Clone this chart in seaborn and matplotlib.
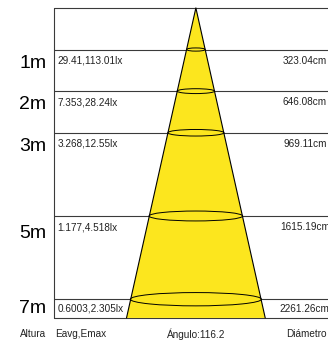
import numpy as np
import pandas as pd
import matplotlib
matplotlib.use('Agg')
import matplotlib.pyplot as plt
from matplotlib.patches import Ellipse, Polygon
import seaborn as sns

# ---- data ----
heights = [1, 2, 3, 5, 7]
height_labels = ['1m', '2m', '3m', '5m', '7m']
eavg_emax = ['29.41,113.01lx', '7.353,28.24lx', '3.268,12.55lx',
             '1.177,4.518lx', '0.6003,2.305lx']
diam_labels = ['323.04cm', '646.08cm', '969.11cm', '1615.19cm', '2261.26cm']
diameters_cm = [323.04, 646.08, 969.11, 1615.19, 2261.26]
beam_angle = 116.2
footer = ['Altura', 'Eavg,Emax', 'Ángulo:116.2', 'Diámetro']

# ---- layout ----
H_BOTTOM = 7.45       # box bottom (m)
BOX_LEFT = -24.5      # box left edge (m, horizontal)
X_LEFT, X_RIGHT = -33.8, 22.8
Y_TOP, Y_BOT = -0.19, 7.98
PX_X = 328 / (X_RIGHT - X_LEFT)
PX_Y = 340 / (Y_BOT - Y_TOP)
LINE = '#3a3a3a'
YELLOW = '#FCE61E'

sns.set_theme(style='white')
plt.rcParams['font.family'] = ['Liberation Sans', 'DejaVu Sans']

fig = plt.figure(figsize=(3.28, 3.40), dpi=100)
ax = fig.add_axes([0, 0, 1, 1])

# level lines + box
levels = pd.DataFrame({
    'x': [BOX_LEFT, X_RIGHT + 5] * (len(heights) + 2),
    'h': [v for h in [0] + heights + [H_BOTTOM] for v in (h, h)],
    'lvl': [i for i in range(len(heights) + 2) for _ in (0, 1)],
})
sns.lineplot(data=levels, x='x', y='h', units='lvl', estimator=None,
             color=LINE, lw=0.8, ax=ax, sort=False)
ax.plot([BOX_LEFT, BOX_LEFT], [0, H_BOTTOM], color=LINE, lw=0.8)
ax.set_xlim(X_LEFT, X_RIGHT)
ax.set_ylim(Y_BOT, Y_TOP)
ax.axis('off')

# light cone
t = np.tan(np.radians(beam_angle / 2))
hw = H_BOTTOM * t
cone = Polygon([(0, 0), (-hw, H_BOTTOM), (hw, H_BOTTOM)], closed=True,
               facecolor=YELLOW, edgecolor='none', zorder=3)
ax.add_patch(cone)
ax.plot([-hw, 0, hw], [H_BOTTOM, 0, H_BOTTOM], color='black', lw=0.8, zorder=4)

# ellipses at each height
for h, d in zip(heights, diameters_cm):
    w = d / 100
    eh_px = 0.09 * w * PX_X + 1.5
    ax.add_patch(Ellipse((0, h), w, eh_px / PX_Y, facecolor='none',
                         edgecolor='black', lw=0.7, zorder=5))

# texts
label_off = [0.33, 0.33, 0.34, 0.42, 0.22]
for h, lab, e, dl, off in zip(heights, height_labels, eavg_emax, diam_labels, label_off):
    ax.text(BOX_LEFT - 1.3, h + off, lab, ha='right', va='center',
            fontsize=14, color='black')
    small_off = min(0.27, (H_BOTTOM - h) / 2)
    ax.text(BOX_LEFT + 0.6, h + small_off, e, ha='left', va='center',
            fontsize=7.2, color='#222222', zorder=6)
    ax.text(18.8, h + small_off, dl, ha='center', va='center',
            fontsize=7.2, color='#222222', zorder=6)

foot_x = [-28.1, -19.8, 0, 19.0]
for fx, ft in zip(foot_x, footer):
    ax.text(fx, 7.83, ft, ha='center', va='center', fontsize=7.2, color='#222222')

fig.savefig('out.png', dpi=100)
